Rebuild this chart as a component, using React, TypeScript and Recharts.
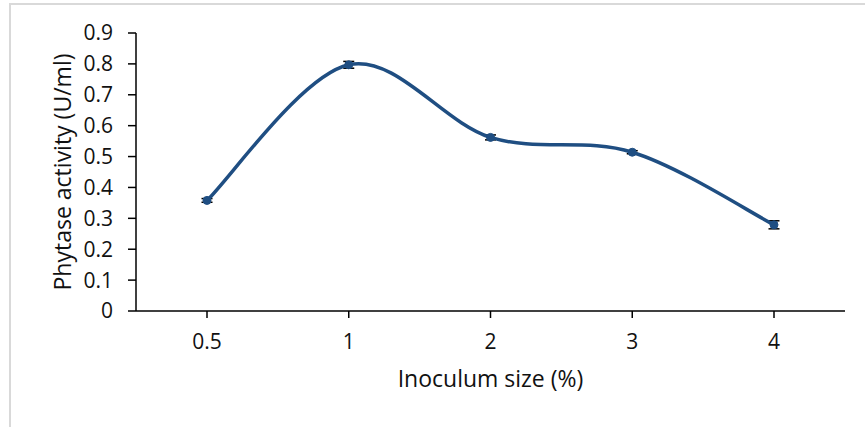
import React from 'react'
import { LineChart, Line, XAxis, YAxis, ErrorBar } from 'recharts'

const inoculumSizes = ['0.5', '1', '2', '3', '4']
const phytaseActivity = [0.358, 0.797, 0.562, 0.514, 0.279]
const activityError = [0.006, 0.011, 0.008, 0.005, 0.013]
const yTicks = [0, 0.1, 0.2, 0.3, 0.4, 0.5, 0.6, 0.7, 0.8, 0.9]

const data = inoculumSizes.map((size, i) => ({
  size,
  activity: phytaseActivity[i],
  err: activityError[i],
}))

const LINE_COLOR = '#1F4E82'
const FONT = '"Open Sans", sans-serif'
const TEXT_COLOR = '#111'

// Excel-style smoothed line: cubic Bezier with Catmull-Rom tangents (1/6 of neighbour span)
const excelSmooth = (context: any) => {
  let pts: [number, number][] = []
  return {
    areaStart() {},
    areaEnd() {},
    lineStart() {
      pts = []
    },
    point(x: number, y: number) {
      pts.push([+x, +y])
    },
    lineEnd() {
      if (!pts.length) return
      context.moveTo(pts[0][0], pts[0][1])
      for (let i = 0; i < pts.length - 1; i++) {
        const p0 = pts[i - 1] || pts[i]
        const p1 = pts[i]
        const p2 = pts[i + 1]
        const p3 = pts[i + 2] || p2
        context.bezierCurveTo(
          p1[0] + (p2[0] - p0[0]) / 6,
          p1[1] + (p2[1] - p0[1]) / 6,
          p2[0] - (p3[0] - p1[0]) / 6,
          p2[1] - (p3[1] - p1[1]) / 6,
          p2[0],
          p2[1]
        )
      }
    },
  }
}

function YTitle({ viewBox }: any) {
  const cx = viewBox.x + 62
  const cy = viewBox.y + viewBox.height / 2
  return (
    <text
      x={cx}
      y={cy}
      transform={`rotate(-90, ${cx}, ${cy})`}
      textAnchor="middle"
      dominantBaseline="central"
      fontFamily={FONT}
      fontSize={23}
      fill={TEXT_COLOR}
    >
      Phytase activity (U/ml)
    </text>
  )
}

function XTitle({ viewBox }: any) {
  return (
    <text
      x={viewBox.x + viewBox.width / 2}
      y={viewBox.y + 76}
      textAnchor="middle"
      fontFamily={FONT}
      fontSize={23}
      fill={TEXT_COLOR}
    >
      Inoculum size (%)
    </text>
  )
}

export default function App() {
  return (
    <div style={{ position: 'fixed', left: 0, top: 0, width: 865, height: 427, background: '#fff' }}>
      <div
        style={{
          position: 'absolute',
          left: 9,
          top: 3,
          right: 0,
          bottom: 0,
          borderLeft: '2px solid #d9d9d9',
          borderTop: '2px solid #d9d9d9',
        }}
      />
      <LineChart
        width={865}
        height={427}
        data={data}
        margin={{ top: 33, right: 20, left: 0, bottom: 0 }}
        style={{ position: 'absolute', left: 0, top: 0 }}
      >
        <XAxis
          dataKey="size"
          type="category"
          padding={{ left: 71, right: 71 }}
          height={116}
          tickSize={7}
          tickMargin={16}
          axisLine={{ stroke: '#000', strokeWidth: 1.5 }}
          tickLine={{ stroke: '#000', strokeWidth: 1.5 }}
          tick={{ fontFamily: FONT, fontSize: 21, fill: TEXT_COLOR }}
          label={<XTitle />}
        />
        <YAxis
          type="number"
          domain={[0, 0.9]}
          ticks={yTicks}
          interval={0}
          width={136}
          tickSize={8}
          tickMargin={15}
          tickFormatter={(v: number) => String(v)}
          axisLine={{ stroke: '#000', strokeWidth: 1.5 }}
          tickLine={{ stroke: '#000', strokeWidth: 1.5 }}
          tick={{ fontFamily: FONT, fontSize: 21, fill: TEXT_COLOR }}
          label={<YTitle />}
        />
        <Line
          dataKey="activity"
          type={excelSmooth as any}
          stroke={LINE_COLOR}
          strokeWidth={3.5}
          dot={{ r: 4, fill: LINE_COLOR, stroke: LINE_COLOR, strokeWidth: 1 }}
          activeDot={false}
          isAnimationActive={false}
        >
          <ErrorBar dataKey="err" width={5.5} stroke="#000" strokeWidth={1.5} isAnimationActive={false} />
        </Line>
      </LineChart>
    </div>
  )
}
